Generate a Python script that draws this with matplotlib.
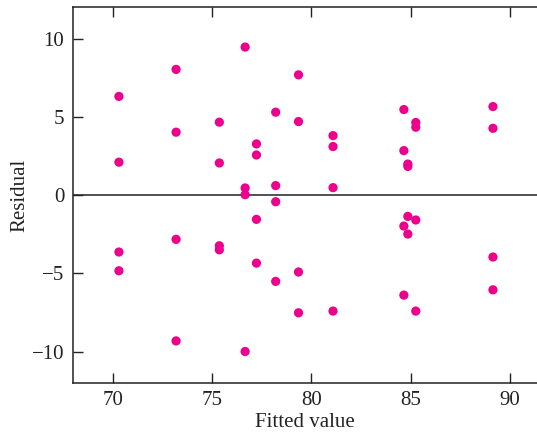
import matplotlib
matplotlib.use("Agg")
import matplotlib.pyplot as plt

# fitted values (12 groups, 4 residuals each)
fitted = [70.3, 73.18, 75.36, 76.66, 77.23, 78.2,
          79.35, 81.09, 84.66, 84.86, 85.26, 89.15]
residuals = [
    [6.33, 2.12, -3.63, -4.83],
    [8.06, 4.04, -2.82, -9.32],
    [4.68, 2.07, -3.23, -3.49],
    [9.49, 0.47, 0.04, -10.0],
    [3.29, 2.58, -1.54, -4.34],
    [5.32, 0.62, -0.41, -5.51],
    [7.71, 4.72, -4.91, -7.52],
    [3.82, 3.12, 0.49, -7.41],
    [5.49, 2.86, -1.97, -6.39],
    [2.00, 1.85, -1.35, -2.48],
    [4.66, 4.36, -1.58, -7.41],
    [5.68, 4.29, -3.95, -6.05],
]
xticks = [70, 75, 80, 85, 90]
yticks = [-10, -5, 0, 5, 10]

plt.rcParams['font.family'] = ['Liberation Serif', 'DejaVu Serif']

fig = plt.figure(figsize=(5.37, 4.33), dpi=100)
ax = fig.add_axes([0.1365, 0.116, 0.8635, 0.867])

xs = []
ys = []
for f, rs in zip(fitted, residuals):
    for r in rs:
        xs.append(f)
        ys.append(r)

ax.scatter(xs, ys, s=44, color='#EC008C', edgecolors='none', zorder=3)
ax.axhline(0, color='#222222', linewidth=1.1, zorder=2)

ax.set_xlim(68, 91.37)
ax.set_ylim(-12, 12.03)
ax.set_xticks(xticks)
ax.set_yticks(yticks)
ax.set_yticklabels(['\u221210', '\u22125', '0', '5', '10'])

ax.tick_params(direction='in', length=7, width=1, colors='#222222',
               labelsize=15, top=True, labelcolor='#222222')
ax.tick_params(axis='x', pad=6)
ax.tick_params(axis='y', pad=6.5)
ax.spines['right'].set_visible(False)
for s in ['left', 'top', 'bottom']:
    ax.spines[s].set_linewidth(1.1)
    ax.spines[s].set_color('#222222')

ax.set_xlabel('Fitted value', fontsize=15, color='#222222', labelpad=2)
ax.set_ylabel('Residual', fontsize=15, color='#222222', labelpad=2)

fig.savefig('out.png', dpi=100)
